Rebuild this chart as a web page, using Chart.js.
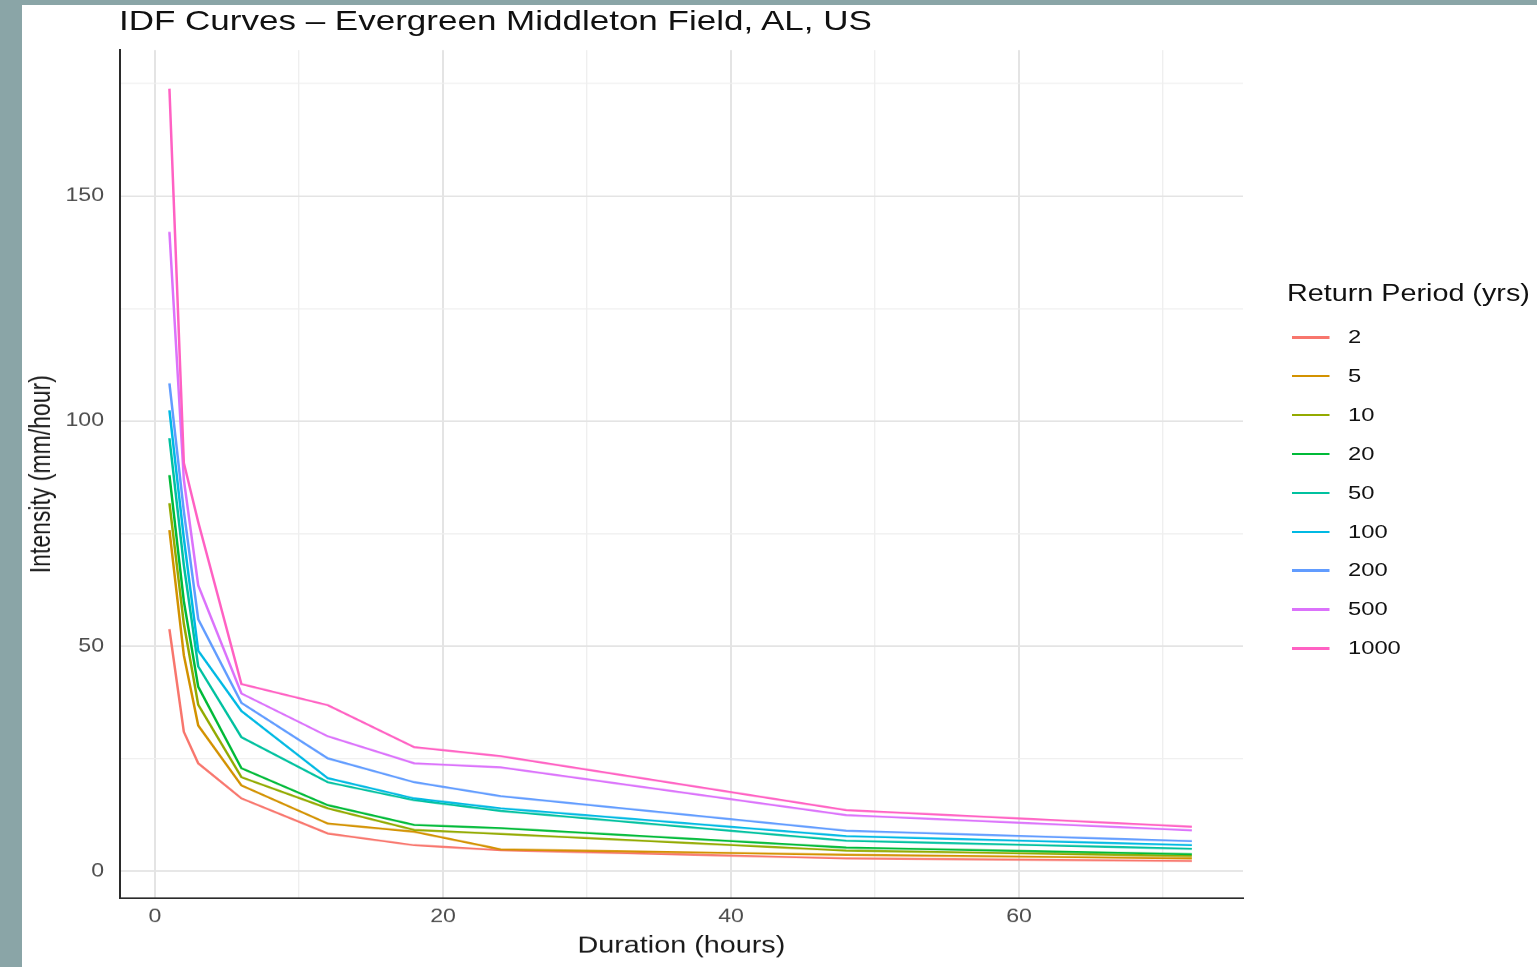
<!DOCTYPE html>
<html>
<head>
<meta charset="utf-8">
<title>IDF Curves</title>
<script src="https://cdn.jsdelivr.net/npm/chart.js@4.4.1/dist/chart.umd.min.js"></script>
<style>
	html, body { margin: 0; padding: 0; width: 1537px; height: 967px; overflow: hidden; background: #8aa5a7; }
	.sheet { position: absolute; left: 22px; top: 5px; width: 1515px; height: 962px; background: #fff; overflow: hidden; }
	/* the figure is laid out narrow and widened as a whole */
	.stretch { position: absolute; left: 0; top: 0; width: 1212px; height: 962px; transform: scaleX(1.25); transform-origin: 0 0; font-family: 'Liberation Sans', Arial, sans-serif; }
	#idf { position: absolute; left: 0; top: 0; }
	.idf-title { position: absolute; left: 77.6px; top: 0; line-height: 32px; font-size: 28px; color: #111; white-space: nowrap; }
	.idf-legend { position: absolute; left: 1012px; top: 274px; width: 200px; height: 420px; }
	.idf-legend-title { position: absolute; left: 0; top: 0; line-height: 28px; font-size: 23px; color: #111; white-space: nowrap; }
	.idf-legend-item { position: absolute; left: 0; height: 28px; width: 180px; }
	.idf-legend-item i { position: absolute; left: 4px; top: 13px; width: 30px; height: 2.5px; }
	.idf-legend-item span { position: absolute; left: 48.8px; top: 0; line-height: 28px; font-size: 19px; color: #111; }
</style>
</head>
<body>
<div class="sheet">
	<div class="stretch">
		<canvas id="idf" width="1212" height="962"></canvas>
		<div class="idf-title">IDF Curves – Evergreen Middleton Field, AL, US</div>
		<div class="idf-legend" id="idf-legend">
			<div class="idf-legend-title">Return Period (yrs)</div>
		</div>
	</div>
</div>
<script>
// storm durations (hours)
var durations = [1, 2, 3, 6, 12, 18, 24, 48, 72];

// intensity (mm/hour) per return period, one value per duration
var rp2 = [53.8, 31.0, 24.0, 16.2, 8.4, 5.8, 4.7, 2.9, 2.3];
var rp5 = [75.8, 48.0, 32.4, 19.1, 10.6, 8.8, 4.9, 3.7, 2.9];
var rp10 = [81.8, 55.0, 37.0, 20.9, 14.0, 9.2, 8.3, 4.6, 3.4];
var rp20 = [88.0, 60.0, 41.0, 22.9, 14.7, 10.3, 9.6, 5.3, 3.8];
var rp50 = [96.2, 68.0, 45.5, 29.8, 19.8, 15.8, 13.4, 6.8, 5.0];
var rp100 = [102.4, 74.0, 49.0, 35.6, 20.7, 16.2, 14.0, 7.8, 5.8];
var rp200 = [108.4, 80.0, 56.0, 37.4, 25.1, 19.8, 16.7, 9.0, 6.7];
var rp500 = [142.0, 87.0, 63.5, 39.5, 30.0, 24.0, 23.1, 12.5, 9.1];
var rp1000 = [173.8, 90.7, 77.6, 41.6, 36.9, 27.6, 25.6, 13.6, 9.9];

var periods = ['2', '5', '10', '20', '50', '100', '200', '500', '1000'];
var periodValues = [rp2, rp5, rp10, rp20, rp50, rp100, rp200, rp500, rp1000];
var periodColors = ['#F8766D', '#D39200', '#93AA00', '#00BA38', '#00C19F', '#00B9E3', '#619CFF', '#DB72FB', '#FF61C3'];

// labelled ticks; the grid also gets the halfway lines
var xTicks = [0, 20, 40, 60];
var xGrid = [0, 10, 20, 30, 40, 50, 60, 70];
var yTicks = [0, 50, 100, 150];
var yGrid = [0, 25, 50, 75, 100, 125, 150, 175];

var tickFont = { family: "'Liberation Sans', Arial, sans-serif", size: 18.5 };
var titleFont = { family: "'Liberation Sans', Arial, sans-serif", size: 23 };

function gridColor(major) {
	return function (ctx) {
		return ctx.tick && major.indexOf(ctx.tick.value) >= 0 ? '#e4e4e4' : '#efefef';
	};
}

function gridWidth(major) {
	return function (ctx) {
		return ctx.tick && major.indexOf(ctx.tick.value) >= 0 ? 1.6 : 1.1;
	};
}

var datasets = periods.map(function (label, i) {
	return {
		label: label,
		data: durations.map(function (d, j) { return { x: d, y: periodValues[i][j] }; }),
		borderColor: periodColors[i],
		borderWidth: 2,
		pointRadius: 0,
		tension: 0,
		fill: false,
		order: periods.length - i
	};
});

new Chart(document.getElementById('idf'), {
	type: 'line',
	data: { datasets: datasets },
	options: {
		responsive: false,
		animation: false,
		devicePixelRatio: 1.25,
		layout: { padding: { top: 45, right: 235.2, left: 0, bottom: 0 } },
		plugins: { legend: { display: false }, title: { display: false }, tooltip: { enabled: false } },
		scales: {
			x: {
				type: 'linear',
				min: -2.45,
				max: 75.55,
				afterBuildTicks: function (scale) {
					scale.ticks = xGrid.map(function (v) { return { value: v }; });
				},
				afterFit: function (scale) { scale.height = 69; },
				grid: { color: gridColor(xTicks), lineWidth: gridWidth(xTicks), drawTicks: false },
				border: { display: true, color: '#2b2b2b', width: 1.6 },
				ticks: {
					autoSkip: false,
					maxRotation: 0,
					padding: 8,
					color: '#4d4d4d',
					font: tickFont,
					callback: function (v) { return xTicks.indexOf(v) >= 0 ? String(v) : ''; }
				},
				title: { display: true, text: 'Duration (hours)', color: '#1a1a1a', font: titleFont, padding: { top: 0, bottom: 7.2 } }
			},
			y: {
				type: 'linear',
				min: -6,
				max: 182.4,
				afterBuildTicks: function (scale) {
					scale.ticks = yGrid.map(function (v) { return { value: v }; });
				},
				afterFit: function (scale) { scale.width = 78.2; },
				grid: { color: gridColor(yTicks), lineWidth: gridWidth(yTicks), drawTicks: false },
				border: { display: true, color: '#2b2b2b', width: 1.6 },
				ticks: {
					autoSkip: false,
					padding: 12.6,
					color: '#4d4d4d',
					font: tickFont,
					callback: function (v) { return yTicks.indexOf(v) >= 0 ? String(v) : ''; }
				},
				title: { display: true, text: 'Intensity (mm/hour)', color: '#1a1a1a', font: titleFont, padding: { top: 2.2, bottom: 0 } }
			}
		}
	}
});

// legend keys, one row per return period
var legend = document.getElementById('idf-legend');
periods.forEach(function (label, i) {
	var row = document.createElement('div');
	row.className = 'idf-legend-item';
	row.style.top = (44 + 38.9 * i) + 'px';
	row.innerHTML = '<i style="background:' + periodColors[i] + '"></i><span>' + label + '</span>';
	legend.appendChild(row);
});
</script>
</body>
</html>
